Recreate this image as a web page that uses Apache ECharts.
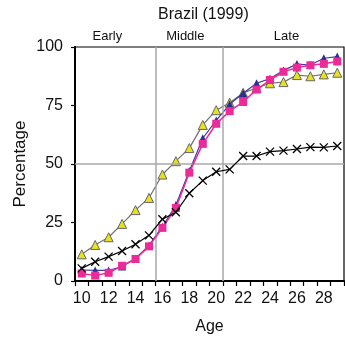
<!DOCTYPE html>
<html>
<head>
<meta charset="utf-8">
<script src="https://cdn.jsdelivr.net/npm/echarts@6/dist/echarts.min.js"></script>
<style>
  html, body { margin: 0; padding: 0; background: #fff; }
  #chart { width: 345px; height: 341px; }
</style>
</head>
<body>
<div id="chart"></div>
<script>
// Ages shown on the horizontal axis
const ages = [10, 11, 12, 13, 14, 15, 16, 17, 18, 19, 20, 21, 22, 23, 24, 25, 26, 27, 28, 29];

// Percentages by age for each of the four curves
const seriesGrayTriangle = [11.4, 15.4, 18.7, 24.4, 30.3, 35.5, 45.5, 51.2, 56.8, 66.7, 73.0, 76.2, 80.4, 82.5, 84.5, 85.0, 88.0, 87.5, 88.3, 89.0];
const seriesBlueTriangle = [4.7, 4.5, 4.5, 6.2, 9.6, 15.2, 23.2, 32.5, 47.0, 61.0, 68.6, 75.5, 80.2, 84.5, 86.5, 90.0, 92.7, 92.3, 95.2, 95.9];
const seriesSquare = [3.2, 2.3, 3.5, 6.5, 9.4, 14.8, 22.7, 31.2, 46.3, 58.6, 67.2, 72.6, 76.5, 81.8, 85.9, 89.4, 91.2, 92.2, 92.8, 93.8];
const seriesCross = [5.4, 8.2, 10.4, 12.8, 15.7, 19.5, 26.4, 29.4, 37.5, 42.9, 46.7, 47.7, 53.4, 53.4, 55.3, 55.7, 56.4, 57.2, 57.1, 57.7];

// Life-stage bands (age ranges) and the reference percentage line
const stages = [
  { name: 'Early', from: 9.5, to: 15.5, shift: -8 },
  { name: 'Middle', from: 15.5, to: 20.5, shift: -4 },
  { name: 'Late', from: 20.5, to: 29.5, shift: 3 }
];
const stageBreaks = [15.5, 20.5];
const refPercent = 50;

const yTicks = { min: 0, max: 100, interval: 25 };

const font = 'Liberation Sans, Arial, Helvetica, sans-serif';
const pairs = vals => ages.map((a, i) => [a, vals[i]]);

const chart = echarts.init(document.getElementById('chart'), null, { renderer: 'canvas' });

chart.setOption({
  animation: false,
  backgroundColor: '#fff',
  textStyle: { fontFamily: font },
  title: {
    text: 'Brazil (1999)',
    left: 153,
    top: 2,
    textStyle: { fontFamily: font, fontSize: 16, fontWeight: 'normal', color: '#111' }
  },
  grid: {
    left: 75, right: 1, top: 47, bottom: 60,
    show: true, borderColor: '#000', borderWidth: 1.2, backgroundColor: 'transparent'
  },
  xAxis: [
    {
      // visible category axis: ticks between ages, labels on even ages
      type: 'category',
      data: ages,
      boundaryGap: true,
      name: 'Age',
      nameLocation: 'middle',
      nameGap: 38,
      nameMoveOverlap: false,
      nameTextStyle: { fontFamily: font, fontSize: 16, color: '#111' },
      axisLine: { lineStyle: { color: '#000', width: 2 } },
      axisTick: { show: true, interval: 0, length: 5, lineStyle: { color: '#000', width: 1.2 } },
      axisLabel: { interval: 1, fontFamily: font, fontSize: 16, color: '#111', margin: 10 },
      splitLine: { show: false }
    },
    {
      // numeric age axis used to place the curves and stage bands
      type: 'value',
      min: 9.5,
      max: 29.5,
      show: false,
      position: 'bottom',
      splitLine: { show: false }
    }
  ],
  yAxis: {
    type: 'value',
    min: yTicks.min,
    max: yTicks.max,
    interval: yTicks.interval,
    name: 'Percentage',
    nameLocation: 'middle',
    nameGap: 46,
    nameMoveOverlap: false,
    nameTextStyle: { fontFamily: font, fontSize: 17, color: '#111' },
    axisLine: { show: true, lineStyle: { color: '#000', width: 2 } },
    axisTick: { show: true, length: 4, lineStyle: { color: '#000', width: 1.2 } },
    axisLabel: { fontFamily: font, fontSize: 16, color: '#111', margin: 12 },
    splitLine: { show: false }
  },
  series: [
    {
      // stage bands, reference lines
      type: 'line',
      xAxisIndex: 1,
      data: [],
      silent: true,
      markArea: {
        silent: true,
        itemStyle: { color: 'rgba(0,0,0,0)' },
        label: {
          show: true, position: 'top', distance: 4,
          fontFamily: font, fontSize: 13, color: '#111'
        },
        data: stages.map(s => [
          { name: s.name, xAxis: s.from, yAxis: 100, label: { offset: [s.shift, 0] } },
          { xAxis: s.to, yAxis: 100 }
        ])
      },
      markLine: {
        silent: true,
        symbol: 'none',
        label: { show: false },
        lineStyle: { color: '#a8a8a8', width: 1.5, type: 'solid' },
        data: stageBreaks.map(b => ({ xAxis: b })).concat([{ yAxis: refPercent }])
      }
    },
    {
      type: 'line',
      xAxisIndex: 1,
      data: pairs(seriesGrayTriangle),
      symbol: 'triangle',
      symbolSize: 9,
      lineStyle: { color: '#6f6f6f', width: 1.2 },
      itemStyle: { color: '#e7e21f', borderColor: '#666', borderWidth: 1 },
      z: 3
    },
    {
      type: 'line',
      xAxisIndex: 1,
      data: pairs(seriesBlueTriangle),
      symbol: 'triangle',
      symbolSize: 8,
      lineStyle: { color: '#3a3fa0', width: 1.2 },
      itemStyle: { color: '#2c2e92' },
      z: 4
    },
    {
      type: 'line',
      xAxisIndex: 1,
      data: pairs(seriesSquare),
      symbol: 'rect',
      symbolSize: 8,
      lineStyle: { color: '#ec2a98', width: 1.5 },
      itemStyle: { color: '#ec2a98' },
      z: 5
    },
    {
      type: 'line',
      xAxisIndex: 1,
      data: pairs(seriesCross),
      symbol: 'path://M0,0L10,10M10,0L0,10',
      symbolSize: 8,
      lineStyle: { color: '#000', width: 1.2 },
      itemStyle: { color: 'rgba(0,0,0,0)', borderColor: '#000', borderWidth: 1.3 },
      z: 6
    }
  ]
});
</script>
</body>
</html>
